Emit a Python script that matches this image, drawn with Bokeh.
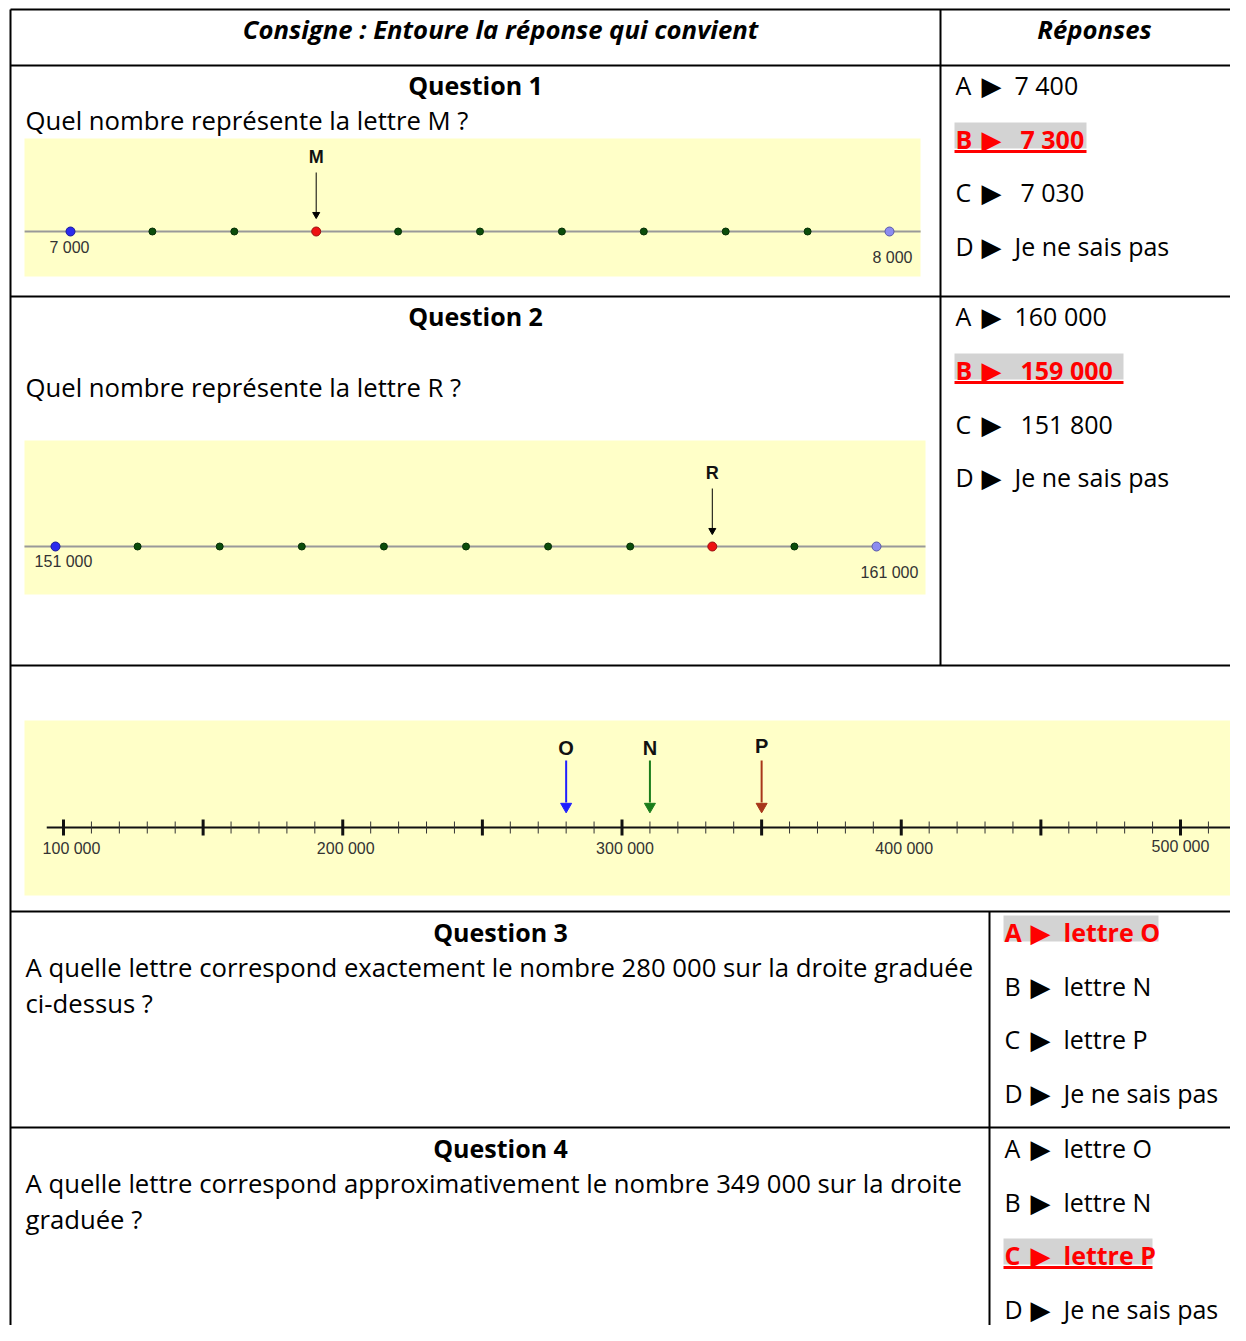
from bokeh.plotting import figure
from bokeh.models import Range1d
from bokeh.core.properties import value
from bokeh.embed import file_html
from bokeh.resources import INLINE

# ---------------- data ----------------
q1_points = [7000, 7100, 7200, 7300, 7400, 7500, 7600, 7700, 7800, 7900, 8000]
q1_labels = ["7 000", "8 000"]
q1_label_values = [7000, 8000]
q1_marked = 7300          # lettre M
q1_letter = "M"

q2_points = [151000, 152000, 153000, 154000, 155000, 156000, 157000, 158000, 159000, 160000, 161000]
q2_labels = ["151 000", "161 000"]
q2_label_values = [151000, 161000]
q2_marked = 159000        # lettre R
q2_letter = "R"

q3_major = [100000, 150000, 200000, 250000, 300000, 350000, 400000, 450000, 500000]
q3_minor = [110000, 120000, 130000, 140000, 160000, 170000, 180000, 190000,
            210000, 220000, 230000, 240000, 260000, 270000, 280000, 290000,
            310000, 320000, 330000, 340000, 360000, 370000, 380000, 390000,
            410000, 420000, 430000, 440000, 460000, 470000, 480000, 490000, 510000]
q3_labels = ["100 000", "200 000", "300 000", "400 000", "500 000"]
q3_label_values = [100000, 200000, 300000, 400000, 500000]
q3_letters = ["O", "N", "P"]
q3_letter_values = [280000, 310000, 350000]
q3_letter_colors = ["#1f1fff", "#1a7d1a", "#a8361a"]

header_left = "Consigne : Entoure la réponse qui convient"
header_right = "Réponses"
questions = ["Question 1", "Question 2", "Question 3", "Question 4"]
q_texts = [
    ["Quel nombre représente la lettre M ?"],
    ["Quel nombre représente la lettre R ?"],
    ["A quelle lettre correspond exactement le nombre 280 000 sur la droite graduée",
     "ci-dessus ?"],
    ["A quelle lettre correspond approximativement le nombre 349 000 sur la droite",
     "graduée ?"],
]
letters = ["A", "B", "C", "D"]
answers = [
    ["7 400", "7 300", "7 030", "Je ne sais pas"],
    ["160 000", "159 000", "151 800", "Je ne sais pas"],
    ["lettre O", "lettre N", "lettre P", "Je ne sais pas"],
    ["lettre O", "lettre N", "lettre P", "Je ne sais pas"],
]
correct = [1, 1, 0, 2]
underlined = [True, True, False, True]

# ---------------- layout (picture pixels) ----------------
X0, X1, Y0, Y1 = 0, 1230, 0, 1325
FONT = "Open Sans"
NFONT = "Liberation Sans"
SZ = "25.7px"

p = figure(width=X1 - X0, height=Y1 - Y0, x_range=Range1d(X0, X1), y_range=Range1d(Y1, Y0),
           output_backend="svg", toolbar_location=None, x_axis_type=None, y_axis_type=None,
           min_border=0, outline_line_color=None)
p.background_fill_color = "white"
p.border_fill_color = "white"


def px_range(v0, px0, v1, px1):
    s = (px1 - px0) / (v1 - v0)
    return Range1d(v0 - (px0 - X0) / s, v0 + (X1 - px0) / s)


p.extra_x_ranges = {
    "q1": px_range(q1_points[0], 70, q1_points[-1], 889),
    "q2": px_range(q2_points[0], 55, q2_points[-1], 876),
    "q3": px_range(100000, 63, 500000, 1180),
}

# yellow panels
p.quad(left=[24, 24, 24], right=[920, 925, 1236], top=[138, 440, 720], bottom=[276, 594, 895],
       fill_color="#ffffc8", line_color=None)

# table lines
p.segment(x0=[10, 10, 10, 10, 10, 10], x1=[1246] * 6,
          y0=[9, 65, 296, 665, 911, 1127], y1=[9, 65, 296, 665, 911, 1127],
          line_color="black", line_width=2)
p.segment(x0=[10, 940, 989], x1=[10, 940, 989], y0=[9, 9, 911], y1=[1341, 665, 1341],
          line_color="black", line_width=2)

# header
p.text(x=[500, 1094], y=[29, 29], text=[header_left, header_right], text_font=value(FONT),
       text_font_size=SZ, text_font_style="bold italic", text_align="center",
       text_baseline="middle", text_color="black")

# questions titles
p.text(x=[475, 475, 500, 500], y=[84, 315, 931, 1147], text=questions, text_font=value(FONT),
       text_font_size="25px", text_font_style="bold", text_align="center",
       text_baseline="middle", text_color="black")

# question texts
qy = [[120], [387], [967, 1003], [1183, 1219]]
tx, ty, tt = [], [], []
for lines, ys in zip(q_texts, qy):
    for l, yy in zip(lines, ys):
        tx.append(25); ty.append(yy); tt.append(l)
p.text(x=tx, y=ty, text=tt, text_font=value(FONT), text_font_size=SZ, text_align="left",
       text_baseline="middle", text_color="black")

# answers
ans_y = [[84, 138, 191, 245], [315, 369, 423, 476], [931, 985, 1038, 1092], [1147, 1201, 1254, 1308]]
ans_xl = [955, 955, 1004, 1004]
for qi in range(4):
    xl = ans_xl[qi]
    for ai in range(4):
        yy = ans_y[qi][ai]
        ok = ai == correct[qi]
        col = "#ff0000" if ok else "black"
        style = "bold" if ok else "normal"
        extra = 6 if (qi < 2 and ai in (1, 2)) else 0
        if ok:
            right = {0: 1086, 1: 1123, 2: 1158, 3: 1152}[qi]
            p.quad(left=[xl - 1], right=[right], top=[yy - 16], bottom=[yy + 10],
                   fill_color="#d3d3d3", line_color=None)
            if underlined[qi]:
                p.segment(x0=[xl - 1], x1=[right], y0=[yy + 13], y1=[yy + 13],
                          line_color="#ff0000", line_width=3)
        p.text(x=[xl], y=[yy], text=[letters[ai]], text_font=value(FONT), text_font_size="25px",
               text_font_style=style, text_color=col, text_baseline="middle")
        p.text(x=[xl + 26], y=[yy + 1], text=["▶"], text_font=value("DejaVu Sans"),
               text_font_size="26px", text_color=col, text_baseline="middle")
        p.text(x=[xl + 59 + extra], y=[yy], text=[answers[qi][ai]], text_font=value(FONT),
               text_font_size="25px", text_font_style=style, text_color=col, text_baseline="middle")

# ---- number line 1 ----
p.segment(x0=[6944], x1=[8038], y0=[231], y1=[231], x_range_name="q1", line_color="#999999", line_width=2)
inner1 = [v for v in q1_points[1:-1] if v != q1_marked]
p.scatter(x=inner1, y=[231] * len(inner1), x_range_name="q1", size=7,
          fill_color="#0b4d0b", line_color="#063006")
p.scatter(x=[q1_points[0]], y=[231], x_range_name="q1", size=9, fill_color="#2a2aee", line_color="#1a1a99")
p.scatter(x=[q1_points[-1]], y=[231], x_range_name="q1", size=9, fill_color="#8c8cf0", line_color="#5a5aa8")
p.scatter(x=[q1_marked], y=[231], x_range_name="q1", size=9, fill_color="#ee1111", line_color="#991111")
p.segment(x0=[q1_marked], x1=[q1_marked], y0=[172], y1=[212], x_range_name="q1", line_color="black", line_width=1)
p.scatter(x=[q1_marked], y=[214], x_range_name="q1", marker="inverted_triangle", size=7,
          fill_color="black", line_color="black")
p.text(x=[q1_marked], y=[156], text=[q1_letter], x_range_name="q1", text_font=value(NFONT),
       text_font_size="18px", text_font_style="bold", text_align="center", text_baseline="middle",
       text_color="#111111")
p.text(x=q1_label_values, y=[247, 257], x_offset=[-1, 3], text=q1_labels, x_range_name="q1",
       text_font=value(NFONT), text_font_size="16px", text_align="center", text_baseline="middle",
       text_color="#333333")

# ---- number line 2 ----
p.segment(x0=[150622], x1=[161597], y0=[546], y1=[546], x_range_name="q2", line_color="#999999", line_width=2)
inner2 = [v for v in q2_points[1:-1] if v != q2_marked]
p.scatter(x=inner2, y=[546] * len(inner2), x_range_name="q2", size=7,
          fill_color="#0b4d0b", line_color="#063006")
p.scatter(x=[q2_points[0]], y=[546], x_range_name="q2", size=9, fill_color="#2a2aee", line_color="#1a1a99")
p.scatter(x=[q2_points[-1]], y=[546], x_range_name="q2", size=9, fill_color="#8c8cf0", line_color="#5a5aa8")
p.scatter(x=[q2_marked], y=[546], x_range_name="q2", size=9, fill_color="#ee1111", line_color="#991111")
p.segment(x0=[q2_marked], x1=[q2_marked], y0=[488], y1=[528], x_range_name="q2", line_color="black", line_width=1)
p.scatter(x=[q2_marked], y=[530], x_range_name="q2", marker="inverted_triangle", size=7,
          fill_color="black", line_color="black")
p.text(x=[q2_marked], y=[472], text=[q2_letter], x_range_name="q2", text_font=value(NFONT),
       text_font_size="18px", text_font_style="bold", text_align="center", text_baseline="middle",
       text_color="#111111")
p.text(x=q2_label_values, y=[561, 572], x_offset=[8, 13], text=q2_labels, x_range_name="q2",
       text_font=value(NFONT), text_font_size="16px", text_align="center", text_baseline="middle",
       text_color="#333333")

# ---- number line 3 ----
p.segment(x0=[94000], x1=[520000], y0=[827], y1=[827], x_range_name="q3", line_color="#111111", line_width=2)
p.segment(x0=q3_major, x1=q3_major, y0=[819] * len(q3_major), y1=[835] * len(q3_major),
          x_range_name="q3", line_color="#111111", line_width=3)
p.segment(x0=q3_minor, x1=q3_minor, y0=[821] * len(q3_minor), y1=[833] * len(q3_minor),
          x_range_name="q3", line_color="#333333", line_width=1)
p.text(x=q3_label_values, y=[848, 848, 848, 848, 846], x_offset=[8, 3, 3, 3, 0], text=q3_labels,
       x_range_name="q3", text_font=value(NFONT), text_font_size="16px", text_align="center",
       text_baseline="middle", text_color="#333333")
p.segment(x0=q3_letter_values, x1=q3_letter_values, y0=[760] * 3, y1=[802] * 3,
          x_range_name="q3", line_color=q3_letter_colors, line_width=2)
p.scatter(x=q3_letter_values, y=[806] * 3, x_range_name="q3", marker="inverted_triangle", size=11,
          fill_color=q3_letter_colors, line_color=q3_letter_colors)
p.text(x=q3_letter_values, y=[747, 747, 745], text=q3_letters, x_range_name="q3",
       text_font=value(NFONT), text_font_size="20px", text_font_style="bold", text_align="center",
       text_baseline="middle", text_color="#111111")

open("out.html", "w").write(file_html(p, INLINE))
